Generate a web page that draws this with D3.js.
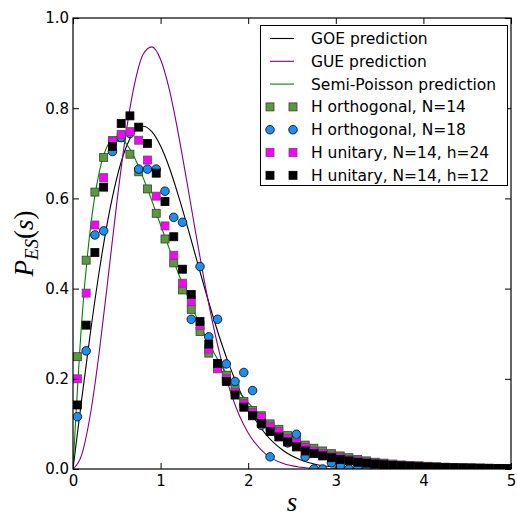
<!DOCTYPE html>
<html>
<head>
<meta charset="utf-8">
<script src="https://cdn.jsdelivr.net/npm/d3@7"></script>
<style>
  body { margin: 0; background: #fff; }
  text { font-family: "DejaVu Sans", sans-serif; }
</style>
</head>
<body>
<script>
// prediction curves at these s positions
var predS = [0, 0.1, 0.2, 0.3, 0.4, 0.5, 0.6, 0.7, 0.8, 0.9, 1.0, 1.1, 1.2, 1.3, 1.4, 1.5, 1.6, 1.7, 1.8, 1.9, 2.0,
             2.2, 2.4, 2.6, 2.8, 3.0, 3.2, 3.4, 3.6, 3.8, 4.0, 4.2, 4.4, 4.6, 4.8, 5.0];
var goeVals = [0, 0.156, 0.304, 0.439, 0.554, 0.645, 0.710, 0.748, 0.760, 0.748, 0.716, 0.668, 0.608, 0.542, 0.472, 0.403, 0.337, 0.276, 0.222, 0.175, 0.136,
               0.077, 0.041, 0.020, 0.009, 0.004, 0.0016, 0.0006, 0.0002, 0.0001, 0, 0, 0, 0, 0, 0];
var gueVals = [0, 0.032, 0.123, 0.260, 0.423, 0.590, 0.738, 0.851, 0.919, 0.936, 0.908, 0.841, 0.746, 0.637, 0.524, 0.416, 0.319, 0.236, 0.170, 0.118, 0.080,
               0.033, 0.012, 0.004, 0.0012, 0.0003, 0, 0, 0, 0, 0, 0, 0, 0, 0, 0];
var spVals = [0, 0.328, 0.536, 0.659, 0.719, 0.736, 0.723, 0.691, 0.646, 0.595, 0.541, 0.488, 0.435, 0.386, 0.341, 0.299, 0.261, 0.227, 0.197, 0.170, 0.147,
              0.108, 0.079, 0.057, 0.041, 0.030, 0.021, 0.015, 0.011, 0.0076, 0.0054, 0.0038, 0.0027, 0.0019, 0.0013, 0.0009];

// histogram bin centres
var binS = [0.05, 0.15, 0.25, 0.35, 0.45, 0.55, 0.65, 0.75, 0.85, 0.95, 1.05, 1.15, 1.25, 1.35, 1.45, 1.55, 1.65, 1.75, 1.85, 1.95,
            2.05, 2.15, 2.25, 2.35, 2.45, 2.55, 2.65, 2.75, 2.85, 2.95, 3.05, 3.15, 3.25, 3.35, 3.45, 3.55, 3.65, 3.75, 3.85, 3.95,
            4.05, 4.15, 4.25, 4.35, 4.45, 4.55, 4.65, 4.75, 4.85, 4.95];
var orth14 = [0.249, 0.463, 0.614, 0.691, 0.728, 0.735, 0.698, 0.659, 0.621, 0.567, 0.510, 0.457, 0.397, 0.354, 0.305, 0.257, 0.225, 0.208, 0.178, 0.150,
              0.130, 0.118, 0.100, 0.088, 0.074, 0.064, 0.053, 0.046, 0.040, 0.034, 0.029, 0.025, 0.021, 0.018, 0.015, 0.013, 0.011, 0.009, 0.008, 0.007,
              0.006, 0.005, 0.004, 0.0035, 0.003, 0.0025, 0.002, 0.0017, 0.0014, 0.0012];
var orth18 = [0.116, 0.262, 0.519, 0.528, 0.704, 0.735, 0.744, 0.665, 0.665, 0.665, 0.616, 0.558, 0.547, 0.332, 0.449, 0.293, 0.332, 0.233, 0.194, 0.214,
              0.174, 0.097, 0.027, 0.075, 0.058, 0.077, 0.027, 0, 0, 0.014, 0.007, 0, 0, 0, 0, 0, 0, 0, 0, 0];
var unit24 = [0.200, 0.390, 0.541, 0.646, 0.727, 0.742, 0.748, 0.729, 0.685, 0.605, 0.539, 0.474, 0.412, 0.371, 0.318, 0.266, 0.222, 0.200, 0.170, 0.145,
              0.125, 0.115, 0.094, 0.083, 0.068, 0.058, 0.048, 0.040, 0.034, 0.029, 0.025, 0.021, 0.018, 0.015, 0.013, 0.011, 0.0095, 0.008, 0.007, 0.006,
              0.005, 0.0043, 0.0036, 0.003, 0.0026, 0.0022, 0.0018, 0.0015, 0.0012, 0.001];
var unit12 = [0.142, 0.319, 0.480, 0.625, 0.715, 0.766, 0.783, 0.758, 0.722, 0.656, 0.593, 0.515, 0.443, 0.387, 0.327, 0.277, 0.234, 0.194, 0.164, 0.137,
              0.118, 0.101, 0.083, 0.071, 0.060, 0.049, 0.040, 0.034, 0.029, 0.025, 0.021, 0.018, 0.015, 0.013, 0.011, 0.0095, 0.008, 0.007, 0.006, 0.005,
              0.0043, 0.0037, 0.0032, 0.0027, 0.0023, 0.002, 0.0017, 0.0014, 0.0012, 0.001];

var xTicks = [0, 1, 2, 3, 4, 5];
var yTicks = [0.0, 0.2, 0.4, 0.6, 0.8, 1.0];

var lineNames = ["GOE prediction", "GUE prediction", "Semi-Poisson prediction"];
var pointNames = ["H orthogonal, N=14", "H orthogonal, N=18", "H unitary, N=14, h=24", "H unitary, N=14, h=12"];

var width = 517, height = 516;
var margin = {top: 18, right: 6, bottom: 47, left: 73};

var svg = d3.select("body").append("svg")
  .attr("width", width)
  .attr("height", height);

var x = d3.scaleLinear().domain([0, 5]).range([margin.left, width - margin.right]);
var y = d3.scaleLinear().domain([0, 1]).range([height - margin.bottom, margin.top]);

svg.append("clipPath").attr("id", "plotClip")
  .append("rect")
  .attr("x", x(0)).attr("y", y(1))
  .attr("width", x(5) - x(0)).attr("height", y(0) - y(1));

var plot = svg.append("g").attr("clip-path", "url(#plotClip)");

var curves = [
  {vals: goeVals, color: "#000000"},
  {vals: gueVals, color: "#800080"},
  {vals: spVals, color: "#008000"}
];

var line = d3.line()
  .x(function(d) { return x(d[0]); })
  .y(function(d) { return y(d[1]); })
  .curve(d3.curveMonotoneX);

curves.forEach(function(c) {
  plot.append("path")
    .datum(predS.map(function(s, i) { return [s, c.vals[i]]; }))
    .attr("fill", "none")
    .attr("stroke", c.color)
    .attr("stroke-width", 1.1)
    .attr("d", line);
});

var series = [
  {vals: orth14, shape: "square", fill: "#5b9a3c", edge: "#3a3a3a"},
  {vals: orth18, shape: "circle", fill: "#1e8ff0", edge: "#000000"},
  {vals: unit24, shape: "square", fill: "#ff00ff", edge: "#555555"},
  {vals: unit12, shape: "square", fill: "#000000", edge: "#000000"}
];

function drawMarker(g, shape, fill, edge, cx, cy) {
  if (shape === "circle") {
    g.append("circle")
      .attr("cx", cx).attr("cy", cy).attr("r", 4.3)
      .attr("fill", fill).attr("stroke", edge).attr("stroke-width", 0.8);
  } else {
    g.append("rect")
      .attr("x", cx - 4).attr("y", cy - 4)
      .attr("width", 8).attr("height", 8)
      .attr("fill", fill).attr("stroke", edge).attr("stroke-width", 0.8);
  }
}

series.forEach(function(sr) {
  var g = plot.append("g");
  sr.vals.forEach(function(v, i) {
    drawMarker(g, sr.shape, sr.fill, sr.edge, x(binS[i]), y(v));
  });
});

// axes, ticks pointing inward on all four sides
var xAxis = svg.append("g")
  .attr("transform", "translate(0," + y(0) + ")")
  .call(d3.axisBottom(x).tickValues(xTicks).tickSizeInner(-6).tickSizeOuter(0).tickPadding(6).tickFormat(d3.format("d")));
var yAxis = svg.append("g")
  .attr("transform", "translate(" + x(0) + ",0)")
  .call(d3.axisLeft(y).tickValues(yTicks).tickSizeInner(-6).tickSizeOuter(0).tickPadding(4).tickFormat(d3.format(".1f")));
svg.append("g")
  .attr("transform", "translate(0," + y(1) + ")")
  .call(d3.axisTop(x).tickValues(xTicks).tickSizeInner(-6).tickSizeOuter(0).tickFormat(""));
svg.append("g")
  .attr("transform", "translate(" + x(5) + ",0)")
  .call(d3.axisRight(y).tickValues(yTicks).tickSizeInner(-6).tickSizeOuter(0).tickFormat(""));

svg.selectAll(".domain").remove();
svg.selectAll(".tick line").attr("stroke", "#000").attr("stroke-width", 1);
svg.selectAll(".tick text").attr("font-size", 15).attr("fill", "#000").attr("font-family", "DejaVu Sans");

svg.append("rect")
  .attr("x", x(0)).attr("y", y(1))
  .attr("width", x(5) - x(0)).attr("height", y(0) - y(1))
  .attr("fill", "none").attr("stroke", "#000").attr("stroke-width", 1.2);

// axis labels
var yl = svg.append("text")
  .attr("transform", "translate(33," + ((y(0) + y(1)) / 2) + ") rotate(-90)")
  .attr("text-anchor", "middle")
  .style("font-family", "'Liberation Serif', serif")
  .style("font-style", "italic")
  .attr("font-size", 27);
yl.append("tspan").text("P");
yl.append("tspan").attr("font-size", 19).attr("dy", 5).text("ES");
yl.append("tspan").attr("dy", -5).style("font-style", "normal").text("(");
yl.append("tspan").text("s");
yl.append("tspan").style("font-style", "normal").text(")");

svg.append("text")
  .attr("x", (x(0) + x(5)) / 2)
  .attr("y", 511)
  .attr("text-anchor", "middle")
  .style("font-family", "'Liberation Serif', serif")
  .style("font-style", "italic")
  .attr("font-size", 27)
  .text("s");

// legend
var legend = svg.append("g");
legend.append("rect")
  .attr("x", 260.5).attr("y", 25.5)
  .attr("width", 247).attr("height", 160)
  .attr("fill", "#fff").attr("stroke", "#000").attr("stroke-width", 1);

var rowY = function(i) { return 38.5 + i * 22.8; };

curves.forEach(function(c, i) {
  legend.append("line")
    .attr("x1", 270).attr("x2", 294)
    .attr("y1", rowY(i)).attr("y2", rowY(i))
    .attr("stroke", c.color).attr("stroke-width", 1.1);
  legend.append("text")
    .attr("x", 311).attr("y", rowY(i) + 5.5)
    .attr("font-size", 15.5)
    .text(lineNames[i]);
});

series.forEach(function(sr, j) {
  var i = j + 3;
  var g = legend.append("g");
  drawMarker(g, sr.shape, sr.fill, sr.edge, 270, rowY(i));
  drawMarker(g, sr.shape, sr.fill, sr.edge, 293, rowY(i));
  legend.append("text")
    .attr("x", 311).attr("y", rowY(i) + 5.5)
    .attr("font-size", 15.5)
    .text(pointNames[j]);
});
</script>
</body>
</html>
